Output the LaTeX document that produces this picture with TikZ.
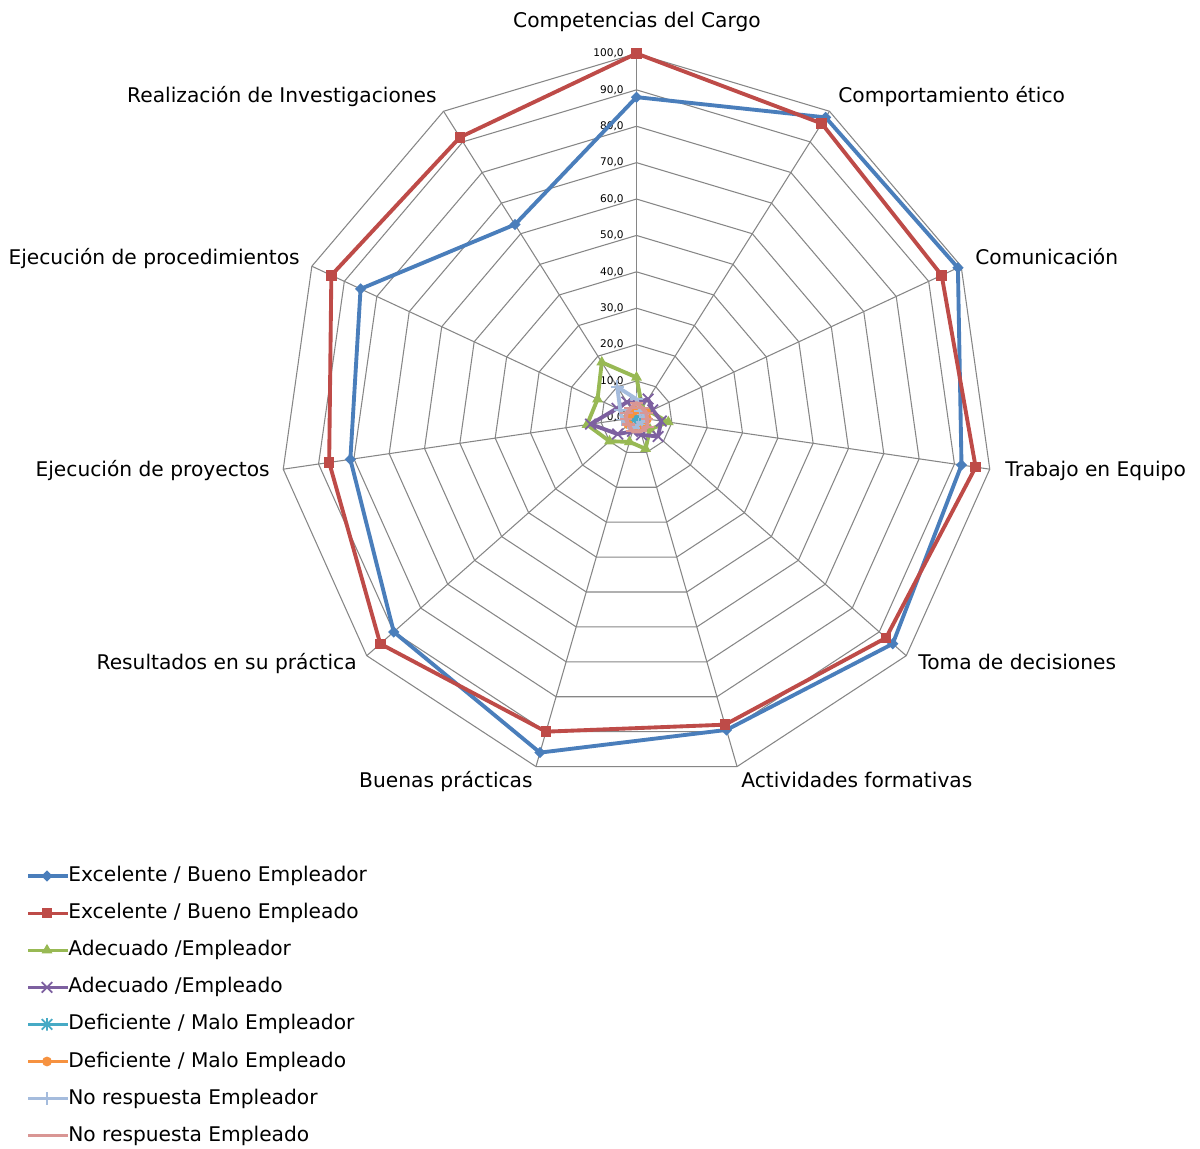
\documentclass[tikz,border=0pt]{standalone}
\usepackage{fontspec}
\setmainfont{DejaVu Sans}
\usetikzlibrary{positioning}
\definecolor{gridColor}{HTML}{868686}
\definecolor{exEmpColor}{HTML}{4A7EBB}
\definecolor{exEmdColor}{HTML}{BE4B48}
\definecolor{adEmpColor}{HTML}{98B954}
\definecolor{adEmdColor}{HTML}{7D60A0}
\definecolor{deEmpColor}{HTML}{46AAC5}
\definecolor{deEmdColor}{HTML}{F69240}
\definecolor{nrEmpColor}{HTML}{A5BCDD}
\definecolor{nrEmdColor}{HTML}{D99694}
\tikzset{
	ring/.style={draw=gridColor, line width=0.6pt},
	series/.style={line width=2.2pt, line join=round},
	axis lab/.style={font=\fontsize{11.5}{13}\selectfont, inner sep=0pt},
	tick lab/.style={font=\fontsize{6}{7}\selectfont, inner sep=0pt, anchor=east},
	leg lab/.style={font=\fontsize{11.5}{13}\selectfont, inner sep=0pt, anchor=west},
	diamondmk/.pic={\fill (0,3.2pt) -- (3.2pt,0) -- (0,-3.2pt) -- (-3.2pt,0) -- cycle;},
	squaremk/.pic={\fill (-3pt,-3pt) rectangle (3pt,3pt);},
	trianglemk/.pic={\fill (90:3.6pt) -- (210:3.6pt) -- (330:3.6pt) -- cycle;},
	crossmk/.pic={\draw[line width=1pt] (-3pt,-3pt) -- (3pt,3pt) (-3pt,3pt) -- (3pt,-3pt);},
	starmk/.pic={\draw[line width=1pt] (-3pt,-3pt) -- (3pt,3pt) (-3pt,3pt) -- (3pt,-3pt) (0,-3.6pt) -- (0,3.6pt);},
	circlemk/.pic={\fill (0,0) circle (2.8pt);},
	plusmk/.pic={\draw[line width=1pt] (-3.6pt,0) -- (3.6pt,0) (0,-3.6pt) -- (0,3.6pt);},
	dashmk/.pic={\draw[line width=1.2pt] (-3.6pt,0) -- (3.6pt,0);}
}
% one closed series on the 11 spokes
\newcommand{\radarseries}[4]{%
	\foreach \v [count=\k from 0] in {#4}
		\coordinate (#1\k) at ({90-\k*360/11}:\v);
	\draw[series, #2] (#10) \foreach \k in {1,...,10}{ -- (#1\k)} -- cycle;
	\foreach \k in {0,...,10} \pic[#2] at (#1\k) {#3};
}

\begin{document}
\begin{tikzpicture}[x=0.02cm, y=-0.02cm]
	\useasboundingbox[fill=white] (0,0) rectangle (1200,1149);
	
	\begin{scope}[shift={(636.5,417.4)}, x=0.0714cm, y=0.0728cm]
		\foreach \r in {10,20,...,100}
			\draw[ring] (90:\r) \foreach \k in {1,...,10}{ -- ({90-\k*360/11}:\r)} -- cycle;
		\foreach \k in {0,...,10}
			\draw[ring] (0,0) -- ({90-\k*360/11}:100);
		\foreach \r in {0,10,...,100}
			\node[tick lab] (tick\r) at (-3.5,\r) {\r,0};
		
		\radarseries{exEmp}{exEmpColor}{diamondmk}{88,98,99,92,95,89.5,96,90,81,85,63}
		\radarseries{exEmd}{exEmdColor}{squaremk}{100,96,94,96,92.5,88,90,95,87,94,91.5}
		\radarseries{adEmp}{adEmpColor}{trianglemk}{11,3,4,9,5,9,7,10,14,12,18}
		\radarseries{adEmd}{adEmdColor}{crossmk}{4,6,5,7,8,5,4,7,13,6,5}
		\radarseries{deEmp}{deEmpColor}{starmk}{1,0.5,0.5,1,1,1,1,1,2,1,1}
		\radarseries{deEmd}{deEmdColor}{circlemk}{2,2,3,3,3,3,3,3,3,2,2}
		\radarseries{nrEmp}{nrEmpColor}{plusmk}{5,2,2,3,2,2,3,3,4,5,10}
		\radarseries{nrEmd}{nrEmdColor}{dashmk}{4,3,3,3,4,4,4,3,3,3,3}
	\end{scope}
	
	% spoke labels
	\node[axis lab, anchor=base] (lab0) at (637,28) {Competencias del Cargo};
	\node[axis lab, anchor=base west] (lab1) at (838,103) {Comportamiento ético};
	\node[axis lab, anchor=base west] (lab2) at (975,264) {Comunicación};
	\node[axis lab, anchor=base west] (lab3) at (1005,476) {Trabajo en Equipo};
	\node[axis lab, anchor=base west] (lab4) at (918,669) {Toma de decisiones};
	\node[axis lab, anchor=base west] (lab5) at (741,787) {Actividades formativas};
	\node[axis lab, anchor=base east] (lab6) at (533,787) {Buenas prácticas};
	\node[axis lab, anchor=base east] (lab7) at (357,669) {Resultados en su práctica};
	\node[axis lab, anchor=base east] (lab8) at (270,476) {Ejecución de proyectos};
	\node[axis lab, anchor=base east] (lab9) at (300,264) {Ejecución de procedimientos};
	\node[axis lab, anchor=base east] (lab10) at (437,103) {Realización de Investigaciones};
	
	% legend
	\foreach \txt/\col/\mk [count=\i from 0] in {
		{Excelente / Bueno Empleador}/exEmpColor/diamondmk,
		{Excelente / Bueno Empleado}/exEmdColor/squaremk,
		{Adecuado /Empleador}/adEmpColor/trianglemk,
		{Adecuado /Empleado}/adEmdColor/crossmk,
		{Deficiente / Malo Empleador}/deEmpColor/starmk,
		{Deficiente / Malo Empleado}/deEmdColor/circlemk,
		{No respuesta Empleador}/nrEmpColor/plusmk,
		{No respuesta Empleado}/nrEmdColor/dashmk}{
		\node[leg lab] (leg\i) at (68,{876+37.1*\i}) {\txt};
		\coordinate (legs\i) at (28,{876+37.1*\i});
		\draw[\col, line width=1.8pt] (legs\i) -- (leg\i.west);
		\pic[\col] at (47,{876+37.1*\i}) {\mk};
	}
\end{tikzpicture}
\end{document}
